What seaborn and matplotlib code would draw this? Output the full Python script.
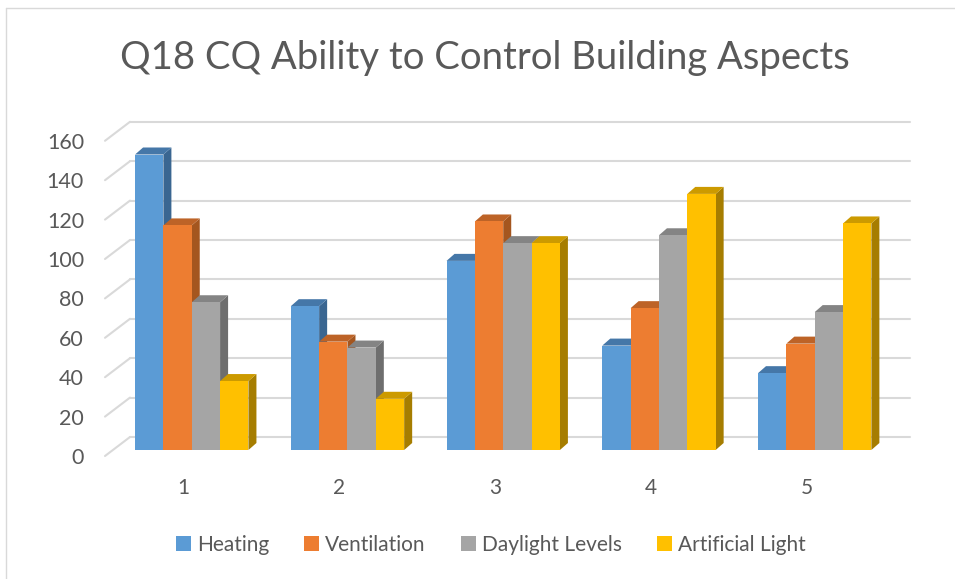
import numpy as np
import pandas as pd
import matplotlib
matplotlib.use("Agg")
import matplotlib.pyplot as plt
import matplotlib.transforms as mtransforms
from matplotlib.patches import Polygon, Patch
from matplotlib.lines import Line2D
import seaborn as sns

# data
categories = ["1", "2", "3", "4", "5"]
series = ["Heating", "Ventilation", "Daylight Levels", "Artificial Light"]
heating = [150, 73, 96, 53, 39]
ventilation = [114, 55, 116, 72, 54]
daylight = [75, 52, 105, 109, 70]
artificial = [35, 26, 105, 130, 115]
y_ticks = [0, 20, 40, 60, 80, 100, 120, 140, 160]

front_cols = ["#5B9BD5", "#ED7D31", "#A5A5A5", "#FFC000"]
top_cols = ["#4577A8", "#BD6327", "#848484", "#CC9A00"]
side_cols = ["#3A6691", "#A4561F", "#6E6E6E", "#A67D00"]
text_col = "#595959"

df = pd.DataFrame({
    "cat": categories * 4,
    "series": sum([[s] * 5 for s in series], []),
    "value": heating + ventilation + daylight + artificial,
})

sns.set_style("white")
plt.rcParams["font.family"] = ["Lato", "DejaVu Sans"]

W, H = 955, 579
fig = plt.figure(figsize=(W / 100, H / 100), dpi=100)
# axes spans pixel x 105..910, bar floor at pixel y 450, ~1.97 px per unit
ymax = 168
ax = fig.add_axes([105 / W, (H - 450) / H, 805 / W, ymax * 1.97 / H])

sns.barplot(data=df, x="cat", y="value", hue="series", palette=front_cols,
            width=0.728, saturation=1, legend=False, ax=ax)
ax.set_xlim(-0.557, 4.612)
ax.set_ylim(0, ymax)
for s in ax.spines.values():
    s.set_visible(False)
ax.set_xticks([])
ax.set_yticks([])
ax.set_xlabel("")
ax.set_ylabel("")

def off(dx, dy):
    return mtransforms.offset_copy(ax.transData, fig=fig, x=dx, y=dy, units="dots")

fig.canvas.draw()

# back-wall gridlines plus slanted floor segment (display coords)
slant_px = 25
x_left = ax.transAxes.transform((0, 0))[0]
x_right = ax.transAxes.transform((1, 0))[0]
for v in y_ticks:
    yv = ax.transData.transform((0, v))[1]
    ax.add_line(Line2D([x_left + slant_px, x_right], [yv + 13, yv + 13],
                       transform=mtransforms.IdentityTransform(), color="#D9D9D9",
                       lw=1.5, zorder=1, clip_on=False))
    ax.add_line(Line2D([x_left, x_left + slant_px], [yv - 6, yv + 13],
                       transform=mtransforms.IdentityTransform(), color="#D9D9D9",
                       lw=1.5, zorder=1, clip_on=False))
    ax.text(x_left - 21, yv - 8, str(v), transform=mtransforms.IdentityTransform(),
            ha="right", va="center", fontsize=15.5, color=text_col)

# fake 3D faces
inv = ax.transData.inverted()
p0 = ax.transData.transform((0, 0))
ddx, ddy = inv.transform(p0 + np.array([8, 7])) - inv.transform(p0)

bars = sorted(ax.patches, key=lambda p: p.get_x())
for k, b in enumerate(bars):
    i = front_cols.index(matplotlib.colors.to_hex(b.get_facecolor()).upper())
    x0, x1, h = b.get_x(), b.get_x() + b.get_width(), b.get_height()
    side = Polygon([(x1, 0), (x1 + ddx, ddy), (x1 + ddx, h + ddy), (x1, h)],
                   closed=True, fc=side_cols[i], ec="none", zorder=10 + 3 * k)
    top = Polygon([(x0, h), (x1, h), (x1 + ddx, h + ddy), (x0 + ddx, h + ddy)],
                  closed=True, fc=top_cols[i], ec="none", zorder=11 + 3 * k)
    ax.add_patch(side)
    ax.add_patch(top)
    b.set_zorder(12 + 3 * k)
    b.set_edgecolor("none")
    b.set_clip_on(False)

# category labels at the floor front edge
for j, c in enumerate(categories):
    ax.text(j, 0, c, transform=off(-8, -38), ha="center", va="center",
            fontsize=15, color=text_col)

fig.text(485 / W, 1 - 58 / H, "Q18 CQ Ability to Control Building Aspects",
         ha="center", va="center", fontsize=27.5, color=text_col)

handles = [Patch(fc=c, ec="none") for c in front_cols]
fig.legend(handles, series, loc="center", bbox_to_anchor=(491 / W, 1 - 545 / H),
           ncol=4, frameon=False, fontsize=15, labelcolor=text_col,
           handlelength=0.7, handleheight=0.7, handletextpad=0.3,
           columnspacing=1.7)

# chart frame (only top and left show in the crop)
fig.add_artist(Line2D([6 / W, 1], [1 - 8 / H, 1 - 8 / H], transform=fig.transFigure,
                      color="#D9D9D9", lw=1))
fig.add_artist(Line2D([6 / W, 6 / W], [0, 1 - 8 / H], transform=fig.transFigure,
                      color="#D9D9D9", lw=1))

fig.savefig("out.png", dpi=100)
